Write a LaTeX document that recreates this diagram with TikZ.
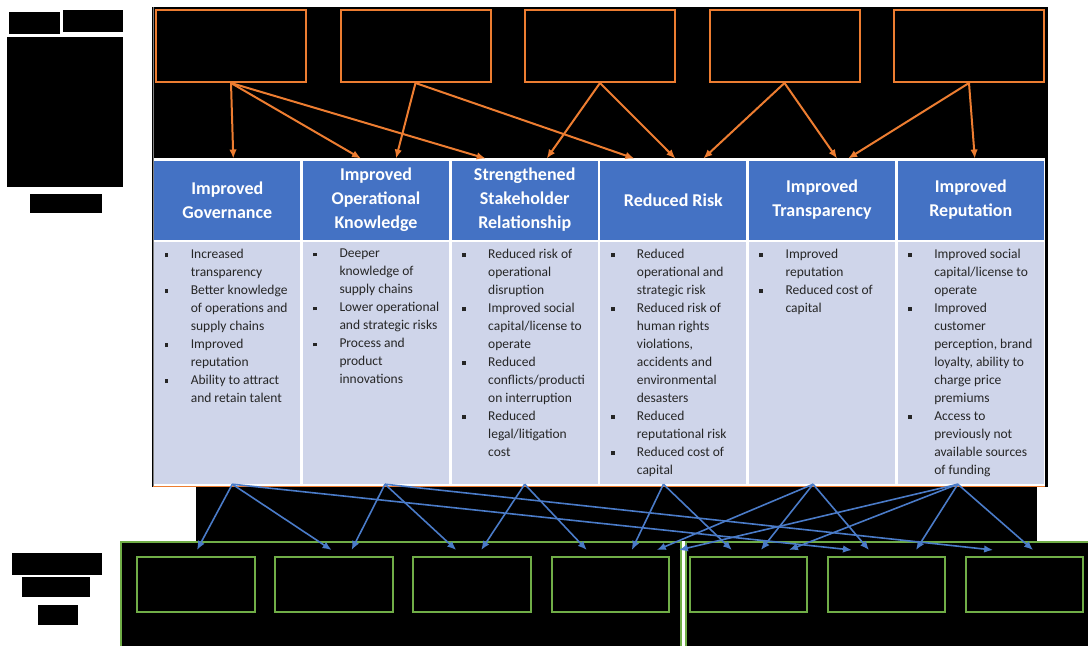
\documentclass[tikz,border=0pt]{standalone}
\usepackage{fontspec}
\setmainfont{Carlito}
\usepackage{tikz}
\usetikzlibrary{arrows.meta,positioning,shapes}
\definecolor{hdblue}{HTML}{4472C4}
\definecolor{cellbg}{HTML}{CFD5EA}
\definecolor{orgline}{HTML}{ED7D31}
\definecolor{grnline}{HTML}{70AD47}
\definecolor{arrblue}{HTML}{4A7BC8}
\definecolor{bodytext}{HTML}{262626}
\tikzstyle{srcbox} = [rectangle, minimum width=150pt, minimum height=72pt, draw=orgline, line width=2pt]
\tikzstyle{head} = [rectangle, minimum width=146pt, minimum height=79pt, inner sep=0pt, outer sep=0pt, fill=hdblue, text=white, align=center, font=\bfseries\fontsize{18}{24}\selectfont]
\tikzstyle{items} = [rectangle, inner sep=0pt, outer sep=0pt, fill=cellbg, text=bodytext, font=\fontsize{13.5}{18}\selectfont]
\tikzstyle{outbox} = [rectangle, minimum width=117.5pt, minimum height=55pt, draw=grnline, line width=2pt]
\tikzstyle{oarrow} = [draw=orgline, line width=2pt]
\tikzstyle{barrow} = [draw=arrblue, line width=1.6pt]
\newcommand{\itm}[1]{\par\noindent\hangindent=36.5pt\hangafter=1\makebox[36.5pt][l]{\hspace{10.3pt}\rule[1.4pt]{3.8pt}{3.8pt}}#1}
\newcommand{\cellbox}[1]{\vbox to 242pt{\hsize=146pt\parindent=0pt\rightskip=0pt plus 1fil\vskip 7pt #1\par\vfill}}

\begin{document}
\begin{tikzpicture}[x=1pt, y=-1pt, node distance=2.7pt, >={Latex[length=9pt,width=7.5pt]}]
	\useasboundingbox (0,0) rectangle (1088,646);
	% hidden labels
	\fill (9,12) rectangle (60,34);
	\fill (63,10) rectangle (123,32);
	\fill (7,37) rectangle (123,187);
	\fill (30,194) rectangle (102,213);
	\fill (12,553) rectangle (102,575);
	\fill (22,577) rectangle (90,597);
	\fill (38,605) rectangle (78,625);
	% background
	\fill (152,7) rectangle (1048,487);
	\fill (196,487) rectangle (1037,541);
	\fill (121,541) rectangle (681,646);
	\fill (686,541) rectangle (1088,646);
	\draw[grnline, line width=2pt] (121,646) -- (121,542) -- (681,542) -- (681,646);
	\draw[grnline, line width=2pt] (686,646) -- (686,542) -- (1088,542);
	\fill[white] (153,158) rectangle (1045,486);
	\draw[gray, line width=1pt] (153,7) -- (153,487);
	\draw[orgline, line width=1pt] (153,486.5) -- (1045,486.5);
	
	\node[srcbox] (src1) at (231,46) {};
	\node[srcbox, right=32.5pt of src1] (src2) {};
	\node[srcbox, right=32.5pt of src2] (src3) {};
	\node[srcbox, right=32.5pt of src3] (src4) {};
	\node[srcbox, right=32.5pt of src4] (src5) {};
	
	\node[head] (gov) at (227.3,200) {Improved\\Governance};
	\node[head, right=of gov] (know) {Improved\\Operational\\Knowledge};
	\node[head, right=of know] (stake) {Strengthened\\Stakeholder\\Relationship};
	\node[head, right=of stake] (risk) {Reduced Risk};
	\node[head, right=of risk] (trans) {Improved\\Transparency};
	\node[head, right=of trans] (rep) {Improved\\Reputation};
	
	\node[items, below=of gov] (list1) {\cellbox{
			\itm{Increased\newline transparency}
			\itm{Better knowledge\newline of operations and\newline supply chains}
			\itm{Improved\newline reputation}
			\itm{Ability to attract\newline and retain talent}}};
	\node[items, below=of know] (list2) {\cellbox{
			\itm{Deeper\newline knowledge of\newline supply chains}
			\itm{Lower operational\newline and strategic risks}
			\itm{Process and\newline product\newline innovations}}};
	\node[items, below=of stake] (list3) {\cellbox{
			\itm{Reduced risk of\newline operational\newline disruption}
			\itm{Improved social\newline capital/license to\newline operate}
			\itm{Reduced\newline conflicts/producti\newline on interruption}
			\itm{Reduced\newline legal/litigation\newline cost}}};
	\node[items, below=of risk] (list4) {\cellbox{
			\itm{Reduced\newline operational and\newline strategic risk}
			\itm{Reduced risk of\newline human rights\newline violations,\newline accidents and\newline environmental\newline desasters}
			\itm{Reduced\newline reputational risk}
			\itm{Reduced cost of\newline capital}}};
	\node[items, below=of trans] (list5) {\cellbox{
			\itm{Improved\newline reputation}
			\itm{Reduced cost of\newline capital}}};
	\node[items, below=of rep] (list6) {\cellbox{
			\itm{Improved social\newline capital/license to\newline operate}
			\itm{Improved\newline customer\newline perception, brand\newline loyalty, ability to\newline charge price\newline premiums}
			\itm{Access to\newline previously not\newline available sources\newline of funding}}};
	
	\node[outbox] (out1) at (196,584.5) {};
	\node[outbox, right=18.6pt of out1] (out2) {};
	\node[outbox, right=18.6pt of out2] (out3) {};
	\node[outbox, right=18.6pt of out3] (out4) {};
	\node[outbox, right=18.6pt of out4] (out5) {};
	\node[outbox, right=18.6pt of out5] (out6) {};
	\node[outbox, right=18.6pt of out6] (out7) {};
	
	%arrow
	\draw [->, oarrow] (src1.south) -- ([xshift=6pt,yshift=2pt]gov.north);
	\draw [->, oarrow] (src1.south) -- ([xshift=-15pt,yshift=2pt]know.north);
	\draw [->, oarrow] (src1.south) -- ([xshift=-39pt,yshift=2pt]stake.north);
	\draw [->, oarrow] (src2.south) -- ([xshift=20pt,yshift=2pt]know.north);
	\draw [->, oarrow] (src2.south) -- ([xshift=-39pt,yshift=2pt]risk.north);
	\draw [->, oarrow] (src3.south) -- ([xshift=22pt,yshift=2pt]stake.north);
	\draw [->, oarrow] (src3.south) -- ([xshift=2pt,yshift=2pt]risk.north);
	\draw [->, oarrow] (src4.south) -- ([xshift=30pt,yshift=2pt]risk.north);
	\draw [->, oarrow] (src4.south) -- ([xshift=15pt,yshift=2pt]trans.north);
	\draw [->, oarrow] (src5.south) -- ([xshift=26pt,yshift=2pt]trans.north);
	\draw [->, oarrow] (src5.south) -- ([xshift=4pt,yshift=2pt]rep.north);
	
	\draw [->, barrow] ([xshift=5pt]list1.south) -- ([xshift=1pt,yshift=6pt]out1.north);
	\draw [->, barrow] ([xshift=5pt]list1.south) -- ([xshift=-2.5pt,yshift=6pt]out2.north);
	\draw [->, barrow] ([xshift=5pt]list1.south) -- ([xshift=-34.5pt,yshift=6pt]out6.north);
	\draw [->, barrow] ([xshift=9pt]list2.south) -- ([xshift=17.5pt,yshift=6pt]out2.north);
	\draw [->, barrow] ([xshift=9pt]list2.south) -- ([xshift=-16pt,yshift=6pt]out3.north);
	\draw [->, barrow] ([xshift=9pt]list2.south) -- ([xshift=-31.5pt,yshift=6pt]out7.north);
	\draw [->, barrow] (list3.south) -- ([xshift=9pt,yshift=6pt]out3.north);
	\draw [->, barrow] (list3.south) -- ([xshift=-23.5pt,yshift=6pt]out4.north);
	\draw [->, barrow] ([xshift=-10pt]list4.south) -- ([xshift=21.5pt,yshift=6pt]out4.north);
	\draw [->, barrow] ([xshift=-10pt]list4.south) -- ([xshift=-16.5pt,yshift=6pt]out5.north);
	\draw [->, barrow] ([xshift=-9pt]list5.south) -- ([xshift=46.5pt,yshift=6pt]out4.north);
	\draw [->, barrow] ([xshift=-9pt]list5.south) -- ([xshift=12.5pt,yshift=6pt]out5.north);
	\draw [->, barrow] ([xshift=-9pt]list5.south) -- ([xshift=-17.5pt,yshift=6pt]out6.north);
	\draw [->, barrow] ([xshift=-13pt]list6.south) -- ([xshift=-69.5pt,yshift=6pt]out5.north);
	\draw [->, barrow] ([xshift=-13pt]list6.south) -- ([xshift=40.5pt,yshift=6pt]out5.north);
	\draw [->, barrow] ([xshift=-13pt]list6.south) -- ([xshift=29.5pt,yshift=6pt]out6.north);
	\draw [->, barrow] ([xshift=-13pt]list6.south) -- ([xshift=8.5pt,yshift=6pt]out7.north);
\end{tikzpicture}
\end{document}
